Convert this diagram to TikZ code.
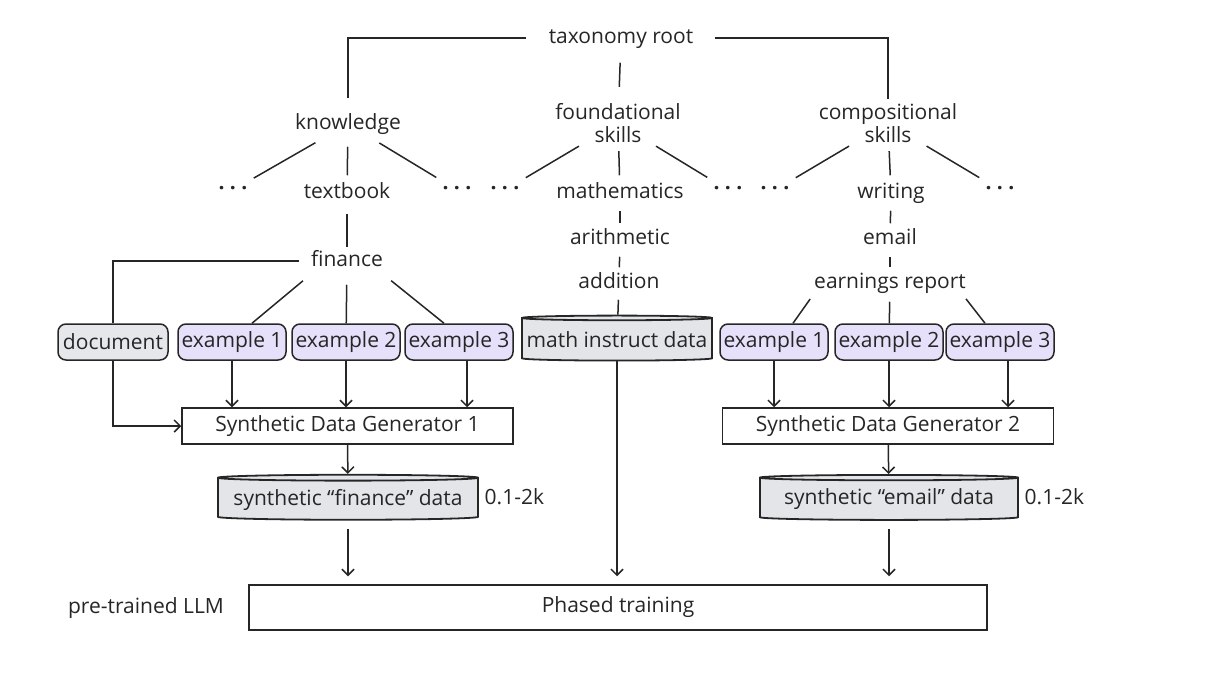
\documentclass[tikz,border=0pt]{standalone}
\usepackage{fontspec}
\setmainfont{Open Sans}
\usetikzlibrary{shapes.geometric,arrows.meta}
\definecolor{exfill}{HTML}{E6E0FA}
\definecolor{docfill}{HTML}{E5E7EA}
\definecolor{cylfill}{HTML}{E3E5E9}
\definecolor{ln}{HTML}{262626}
\begin{document}
\begin{tikzpicture}[x=1pt,y=-1pt, font=\fontsize{21}{22.5}\selectfont, color=ln, line width=1.5pt,
  lbl/.style={inner sep=3pt, text height=14pt, text depth=4pt},
  lbl2/.style={inner sep=2pt, align=center},
  dots/.style={lbl, font=\fontsize{21}{22.5}\selectfont\bfseries},
  tree/.style={shorten <=5pt, shorten >=3pt},
  ex/.style={draw, rounded corners=8pt, fill=exfill, minimum width=108pt, minimum height=36pt, inner xsep=1pt, inner ysep=0pt},
  docbox/.style={ex, fill=docfill, minimum width=110pt},
  gen/.style={draw, minimum width=331pt, minimum height=36pt},
  cyl/.style={cylinder, shape border rotate=90, aspect=0.025, draw, fill=cylfill, line width=1.8pt, minimum height=45pt, inner xsep=3pt},
  arr/.style={-{Straight Barb[length=6pt,width=12pt]}}
]
\useasboundingbox (0,0) rectangle (1205,680);
% tree labels
\node[lbl] (root) at (621,38) {taxonomy root};
\node[lbl] (know) at (348,124) {knowledge};
\node[lbl2] (found) at (618,123) {foundational\\skills};
\node[lbl2] (comp) at (888,123) {compositional\\skills};
\node[dots] (d1) at (233,190) {· · ·};
\node[lbl] (tb) at (347,193) {textbook};
\node[dots] (d2) at (457,190) {· · ·};
\node[dots] (d3) at (505,190) {· · ·};
\node[lbl] (math) at (620,193) {mathematics};
\node[dots] (d4) at (728,190) {· · ·};
\node[dots] (d5) at (775,190) {· · ·};
\node[lbl] (wr) at (891,193) {writing};
\node[dots] (d6) at (1000,190) {· · ·};
\node[lbl] (arith) at (620,239) {arithmetic};
\node[lbl] (add) at (619,283) {addition};
\node[lbl] (email) at (890,239) {email};
\node[lbl] (earn) at (890,283) {earnings report};
\node[lbl] (fin) at (347,261) {finance};
% boxes
\node[docbox] (doc) at (113,342) {document};
\node[ex] (e1) at (232,342) {example 1};
\node[ex] (e2) at (346,342) {example 2};
\node[ex] (e3) at (459,342) {example 3};
\node[cyl, minimum width=190pt] (mid) at (617,340) {math instruct data};
\node[ex] (f1) at (774,342) {example 1};
\node[ex] (f2) at (889,342) {example 2};
\node[ex] (f3) at (1000,342) {example 3};
\node[gen] (g1) at (347.5,426) {Synthetic Data Generator 1};
\node[gen] (g2) at (888,426) {Synthetic Data Generator 2};
\node[cyl, minimum width=260pt] (cf) at (348,499.5) {synthetic “finance” data};
\node[cyl, minimum width=258pt] (ce) at (889,499.5) {synthetic “email” data};
\node[lbl, anchor=west] (k1) at ([xshift=2pt]cf.east) {0.1-2k};
\node[lbl, anchor=west] (k2) at ([xshift=2pt]ce.east) {0.1-2k};
\node[draw, minimum width=738pt, minimum height=45pt] (ph) at (618,607.5) {Phased training};
\node[lbl] (pre) at (146,608) {pre-trained LLM};
% tree connectors
\draw[shorten <=19pt, shorten >=13pt] (root.west) -| (know.north);
\draw[shorten <=18pt, shorten >=2pt] (root.east) -| (comp.north);
\draw[shorten <=12pt, shorten >=14pt] (root) -- (found);
\draw[shorten <=12pt, shorten >=3pt] (know) -- (d1);
\draw[shorten <=12pt, shorten >=3pt] (know) -- (d2);
\draw[shorten <=10pt, shorten >=5pt] (know) -- (tb);
\draw[shorten <=2pt, shorten >=3pt] (found) -- (d3);
\draw[shorten <=2pt, shorten >=3pt] (found) -- (d4);
\draw[shorten <=6pt, shorten >=5pt] (found) -- (math);
\draw[shorten <=2pt, shorten >=3pt] (comp) -- (d5);
\draw[shorten <=2pt, shorten >=3pt] (comp) -- (d6);
\draw[shorten <=6pt, shorten >=5pt] (comp) -- (wr);
\draw[shorten <=8pt, shorten >=1pt] (tb) -- (fin);
\draw[tree] (math) -- (arith);
\draw[tree] (arith) -- (add);
\draw[shorten <=4pt] (add) -- (mid);
\draw[tree] (wr) -- (email);
\draw[tree] (email) -- (earn);
% finance / earnings fan-out
\draw[shorten <=8pt] (fin.west) -| (doc.north);
\draw[shorten <=11pt] ([xshift=4pt]fin.south west) -- ([xshift=20pt]e1.north);
\draw[shorten <=11pt] (fin) -- (e2);
\draw[shorten <=11pt] ([xshift=-4pt]fin.south east) -- ([xshift=-15pt]e3.north);
\draw[shorten <=4pt] ([xshift=2pt]earn.south west) -- ([xshift=19pt]f1.north);
\draw[shorten <=6pt] (earn) -- (f2);
\draw[shorten <=4pt] ([xshift=-6pt]earn.south east) -- ([xshift=-15pt]f3.north);
% arrows to generators
\draw[arr] (doc) |- (g1.west);
\draw[arr] (e1) -- (e1 |- g1.north);
\draw[arr] (e2) -- (e2 |- g1.north);
\draw[arr] ([xshift=8pt]e3.south) -- ([xshift=8pt]e3.south |- g1.north);
\draw[arr] (f1) -- (f1 |- g2.north);
\draw[arr] (f2) -- (f2 |- g2.north);
\draw[arr] ([xshift=8pt]f3.south) -- ([xshift=8pt]f3.south |- g2.north);
\draw[arr] (g1) -- (cf);
\draw[arr] (g2) -- (ce);
% arrows to training
\draw[arr, shorten <=8pt, shorten >=8pt] (cf) -- (cf |- ph.north);
\draw[arr, shorten >=8pt] (mid) -- (mid |- ph.north);
\draw[arr, shorten <=8pt, shorten >=8pt] (ce) -- (ce |- ph.north);
\end{tikzpicture}
\end{document}
